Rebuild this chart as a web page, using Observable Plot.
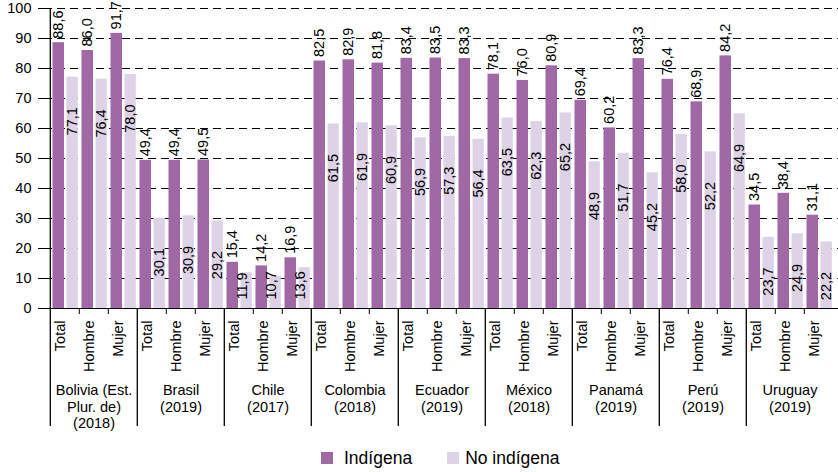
<!DOCTYPE html>
<html><head><meta charset="utf-8">
<script src="https://cdn.jsdelivr.net/npm/d3@7"></script>
<script src="https://cdn.jsdelivr.net/npm/@observablehq/plot@0.6"></script>
<style>
body{margin:0;background:#fff;font-family:"Liberation Sans",Arial,sans-serif;}
#chart svg{overflow:visible;display:block}
#legend{height:36px;padding-top:8px;box-sizing:border-box;display:flex;align-items:center;padding-left:321px;font-size:17.5px;color:#000}
.sw{width:12px;height:12px;display:inline-block}
</style></head><body>
<div id="chart"></div>
<div id="legend"></div>
<script>
const countries = ["Bolivia (Est.\nPlur. de)\n(2018)", "Brasil\n(2019)", "Chile\n(2017)", "Colombia\n(2018)", "Ecuador\n(2019)", "México\n(2018)", "Panamá\n(2019)", "Perú\n(2019)", "Uruguay\n(2019)"];
const categories = ["Total", "Hombre", "Mujer"];
const seriesNames = ["Indígena", "No indígena"];
const indigena = [88.6,86.0,91.7, 49.4,49.4,49.5, 15.4,14.2,16.9, 82.5,82.9,81.8, 83.4,83.5,83.3, 78.1,76.0,80.9, 69.4,60.2,83.3, 76.4,68.9,84.2, 34.5,38.4,31.1];
const noIndigena = [77.1,76.4,78.0, 30.1,30.9,29.2, 11.9,10.7,13.6, 61.5,61.9,60.9, 56.9,57.3,56.4, 63.5,62.3,65.2, 48.9,51.7,45.2, 58.0,52.2,64.9, 23.7,24.9,22.2];
const yTicks = [0,10,20,30,40,50,60,70,80,90,100];
const colors = ["#A068A5", "#DED2E7"];

const W = 838, H = 436, ML = 44, MR = 0, MT = 8, MB = 128;
const bw = (W - ML - MR) / (countries.length * categories.length);

const keys = [];
const rows = [];
countries.forEach((c, i) => categories.forEach((cat, j) => {
  const key = i + "|" + cat;
  keys.push(key);
  rows.push({key, series: seriesNames[0], value: indigena[i*3+j]});
  rows.push({key, series: seriesNames[1], value: noIndigena[i*3+j]});
}));
const catRows = keys.map(k => ({key: k, cat: k.split("|")[1]}));
const ctryRows = countries.map((c, i) => ({key: i + "|Hombre", label: c}));
const sepRows = countries.map((c, i) => ({key: i + "|Total", top: i === 0 ? 100 : 0}));
const tickRows = keys.filter(k => !k.endsWith("|Total"));
const fmt = v => d3.format(".1f")(v).replace(".", ",");
const ind = rows.filter(d => d.series === seriesNames[0]);
const non = rows.filter(d => d.series === seriesNames[1]);

const chart = Plot.plot({
  width: W, height: H, marginLeft: ML, marginRight: MR, marginTop: MT, marginBottom: MB,
  style: {fontFamily: "'Liberation Sans', Arial, sans-serif", fontSize: "14.5px", color: "#000", background: "#fff"},
  x: {type: "band", domain: keys, padding: 0, axis: null},
  y: {domain: [0, 100], axis: null},
  marks: [
    Plot.gridY(yTicks.filter(t => t > 0), {stroke: "#000", strokeOpacity: 1, strokeDasharray: "8,5"}),
    Plot.barY(ind, {x: "key", y: "value", fill: colors[0], insetLeft: 2.5, insetRight: 15}),
    Plot.barY(non, {x: "key", y: "value", fill: colors[1], insetLeft: 16.5, insetRight: 1.2}),
    Plot.ruleY([0], {stroke: "#000"}),
    Plot.axisY(yTicks, {tickSize: 6, tickPadding: 7, label: null}),
    Plot.ruleX(sepRows, {x: "key", dx: -bw/2, y1: "top", y2: 0, insetBottom: -118, stroke: "#000", strokeWidth: 1.3}),
    Plot.ruleX(tickRows, {x: d => d, dx: -bw/2, y1: 0, y2: 0, insetBottom: -6, stroke: "#000"}),
    Plot.text(ind, {x: "key", y: "value", text: d => fmt(d.value), rotate: -90, textAnchor: "start", dx: -7, dy: -4, fill: "#000"}),
    Plot.text(non.filter(d => d.value >= 20), {x: "key", y: "value", text: d => fmt(d.value), rotate: -90, textAnchor: "end", dx: 7.5, dy: 30, fill: "#000"}),
    Plot.text(non.filter(d => d.value < 20), {x: "key", frameAnchor: "bottom", text: d => fmt(d.value), rotate: -90, textAnchor: "start", dx: 7.5, dy: -9, fill: "#000"}),
    Plot.text(catRows, {x: "key", frameAnchor: "bottom", text: "cat", rotate: -90, textAnchor: "end", dy: 12, fill: "#000"}),
    Plot.text(ctryRows, {x: "key", frameAnchor: "bottom", text: "label", lineAnchor: "top", lineHeight: 1.17, dy: 74, fill: "#000"})
  ]
});
document.getElementById("chart").appendChild(chart);

const lg = document.getElementById("legend");
seriesNames.forEach((s, i) => {
  const sw = document.createElement("span");
  sw.className = "sw"; sw.style.background = colors[i];
  sw.style.marginLeft = i === 0 ? "0px" : "35px";
  const t = document.createElement("span");
  t.textContent = s; t.style.marginLeft = i === 0 ? "11px" : "6px";
  lg.appendChild(sw); lg.appendChild(t);
});
</script>
</body></html>
